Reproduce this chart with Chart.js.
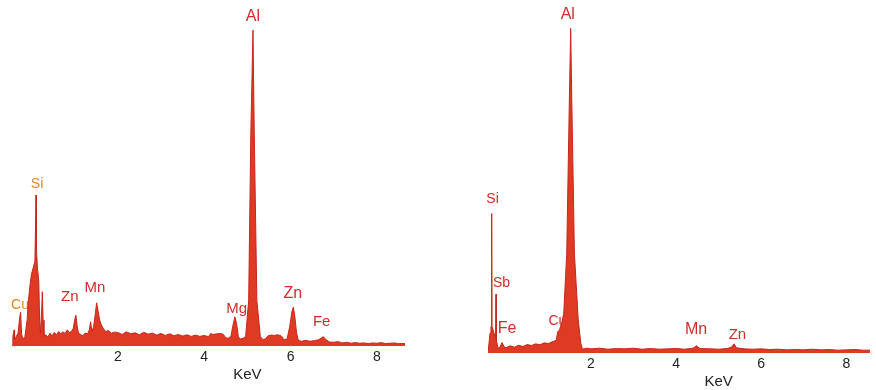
<!DOCTYPE html>
<html>
<head>
<meta charset="utf-8">
<script src="https://cdn.jsdelivr.net/npm/chart.js@4.4.1/dist/chart.umd.min.js"></script>
<style>
  body { margin: 0; background: #fff; }
  .box { position: absolute; top: 0; }
</style>
</head>
<body>
<div class="box" style="left:0px"><canvas id="leftSpectrum" width="440" height="390"></canvas></div>
<div class="box" style="left:440px"><canvas id="rightSpectrum" width="436" height="390"></canvas></div>
<script>
// tick labels on the energy axis
const tickValues = [2, 4, 6, 8];
const axisTitle = "KeV";

// spectrum 1 (left)
const leftKeV = [
  -0.45, -0.43, -0.40, -0.39, -0.35, -0.31, -0.27, -0.25, -0.23, -0.20, -0.15, -0.10, -0.07, -0.03, 0.00, 0.04, 0.08, 0.10, 0.106, 0.115, 0.14, 0.17, 0.19, 0.21, 0.24, 0.252, 0.27, 0.29,
  0.33, 0.38, 0.43, 0.48, 0.53, 0.58, 0.63, 0.68, 0.73, 0.78, 0.83, 0.88, 0.93, 0.97, 1.00, 1.03, 1.06, 1.09, 1.14, 1.19, 1.24, 1.30, 1.34, 1.37, 1.40, 1.44, 1.48, 1.51, 1.54, 1.58, 1.62, 1.66, 1.72, 1.78, 1.85, 1.92,
  2.0, 2.1, 2.2, 2.3, 2.4, 2.5, 2.6, 2.7, 2.8, 2.9, 3.0, 3.1, 3.2, 3.3, 3.4, 3.5, 3.6, 3.7, 3.8, 3.9, 4.0, 4.1, 4.15, 4.2, 4.3, 4.4, 4.45, 4.5, 4.55, 4.62, 4.66, 4.71, 4.75, 4.79, 4.83, 4.9,
  4.96, 5.03, 5.08, 5.13, 5.16, 5.22, 5.30, 5.36, 5.42, 5.48, 5.55, 5.62, 5.70, 5.78, 5.85, 5.92, 5.98, 6.03, 6.065, 6.10, 6.14, 6.18, 6.25, 6.35, 6.45, 6.55, 6.65, 6.72, 6.76, 6.82, 6.90,
  7.0, 7.1, 7.2, 7.3, 7.4, 7.5, 7.6, 7.7, 7.8, 7.9, 8.0, 8.1, 8.2, 8.3, 8.4, 8.5, 8.65
];
const leftCounts = [
  0, 3, 5, 2, 3, 4, 9, 10.5, 4, 2, 3, 8, 14, 19, 22, 24, 26, 40, 46.3, 30, 24, 20, 8, 4, 12, 16.7, 8, 3,
  3.5, 2.8, 4, 3.2, 4.2, 3.5, 4.5, 3.8, 4.4, 3.9, 5, 4.2, 4.6, 5.5, 8, 9.5, 6, 4, 3.6, 3.2, 4, 3.8, 5, 7.5, 4.5, 6, 10, 13.3, 11, 8, 6.5, 5.5, 4.5, 4.8, 4, 4.3,
  4.2, 3.6, 4.4, 3.8, 4.1, 3.5, 4.3, 3.7, 4.0, 3.4, 3.9, 3.3, 3.8, 3.2, 3.6, 3.1, 3.5, 3.0, 3.4, 3.0, 3.3, 2.9, 3.9, 3.6, 3.8, 3.9, 3.5, 2.6, 2.4, 3, 6, 9, 7, 3, 2.2, 2.4,
  3, 14, 65, 96.9, 65, 14, 3, 2, 2.3, 3.2, 3.4, 3.3, 3.5, 3.2, 2.0, 2.2, 6, 10.5, 12, 9, 4, 1.8, 1.5, 1.8, 1.5, 1.7, 2.0, 2.6, 2.9, 2.0, 1.3,
  1.2, 1.4, 1.0, 1.2, 0.9, 1.1, 0.9, 1.0, 0.8, 1.0, 0.9, 1.1, 0.8, 0.9, 1.0, 0.8, 0.8
];
const leftLabels = ["Al", "Si", "Cu", "Zn", "Mn", "Mg", "Zn", "Fe"];
const leftLabelKeV = [5.13, 0.13, -0.265, 0.89, 1.47, 4.75, 6.05, 6.72];
const leftLabelCounts = [100.9, 49.7, 12.6, 15.0, 17.8, 11.3, 16.0, 7.4];

// spectrum 2 (right)
const rightKeV = [
  -0.42, -0.396, -0.373, -0.35, -0.34, -0.333, -0.326, -0.30, -0.256, -0.24, -0.232, -0.225, -0.185, -0.14, -0.09, -0.044,
  0.0, 0.1, 0.2, 0.3, 0.4, 0.5, 0.6, 0.7, 0.8, 0.9, 1.0, 1.1, 1.18, 1.22, 1.26, 1.31, 1.36, 1.43, 1.49, 1.523, 1.55, 1.61, 1.70, 1.76, 1.80, 1.9,
  2.0, 2.2, 2.4, 2.6, 2.8, 3.0, 3.2, 3.4, 3.6, 3.8, 4.0, 4.2, 4.4, 4.48, 4.56, 4.8, 5.0, 5.2, 5.3, 5.36, 5.42, 5.6, 5.8, 6.0, 6.2, 6.4, 6.6, 6.8, 7.0, 7.2, 7.4, 7.6, 7.8, 8.0, 8.2, 8.4, 8.555
];
const rightCounts = [
  0, 3, 6, 8, 8, 41.9, 8, 7, 5, 5, 17.7, 4, 1.5, 1.8, 3.2, 2,
  1.6, 2.2, 1.8, 2.4, 2.0, 2.6, 2.3, 2.8, 2.5, 3.1, 2.9, 3.5, 3.8, 6.5, 7, 9, 12, 30, 75, 97.5, 75, 30, 10, 3, 1.2, 1.5,
  1.3, 1.5, 1.2, 1.4, 1.3, 1.5, 1.2, 1.4, 1.2, 1.3, 1.4, 1.2, 1.5, 2.2, 1.4, 1.3, 1.2, 1.4, 1.8, 2.8, 1.6, 1.3, 1.2, 1.3, 1.1, 1.2, 1.0, 1.1, 1.0, 1.2, 1.0, 1.1, 0.9, 1.0, 1.1, 0.9, 0.9
];
const rightLabels = ["Al", "Si", "Sb", "Fe", "Cu", "Mn", "Zn"];
const rightLabelKeV = [1.455, -0.314, -0.103, 0.027, 1.21, 4.468, 5.44];
const rightLabelCounts = [101.5, 46.2, 21, 7.5, 9.6, 7.2, 5.4];

const fillColor = "rgb(222, 58, 36)";
const edgeColor = "rgb(198, 40, 28)";
const red = "#d32a2a";
const orange = "#e8831f";

// element labels, drawn under the spectrum
const peakLabels = {
  id: "peakLabels",
  beforeDatasetsDraw(chart, args, opts) {
    const c = chart.ctx;
    const xs = chart.scales.x, ys = chart.scales.y;
    c.save();
    c.textAlign = "center";
    c.textBaseline = "middle";
    opts.names.forEach((name, i) => {
      c.font = opts.sizes[i] + "px 'Liberation Sans', Arial, sans-serif";
      c.fillStyle = opts.colors[i];
      c.fillText(name, xs.getPixelForValue(opts.kev[i]), ys.getPixelForValue(opts.counts[i]));
    });
    c.restore();
  }
};

// axis title sits under 5 keV in both panels
const keVTitle = {
  id: "keVTitle",
  afterDraw(chart) {
    const c = chart.ctx;
    c.save();
    c.font = "15px 'Liberation Sans', Arial, sans-serif";
    c.fillStyle = "#222";
    c.textAlign = "center";
    c.textBaseline = "middle";
    c.fillText(axisTitle, chart.scales.x.getPixelForValue(5), chart.chartArea.bottom + 29);
    c.restore();
  }
};

function makeSpectrum(id, kev, counts, xMin, xMax, padding, labelOpts) {
  const ctx = document.getElementById(id).getContext("2d");
  return new Chart(ctx, {
    type: "line",
    data: {
      datasets: [{
        data: kev.map((k, i) => ({ x: k, y: counts[i] })),
        fill: "origin",
        backgroundColor: fillColor,
        borderColor: edgeColor,
        borderWidth: 1,
        pointRadius: 0,
        tension: 0
      }]
    },
    options: {
      responsive: false,
      animation: false,
      layout: { padding: padding },
      plugins: {
        legend: { display: false },
        tooltip: { enabled: false },
        peakLabels: labelOpts
      },
      scales: {
        x: {
          type: "linear",
          min: xMin,
          max: xMax,
          grid: { display: false, drawTicks: false },
          border: { display: false },
          afterBuildTicks: axis => { axis.ticks = tickValues.map(v => ({ value: v })); },
          ticks: {
            padding: 3,
            color: "#222",
            font: { size: 14, family: "'Liberation Sans', Arial, sans-serif" }
          }
        },
        y: { display: false, min: 0, max: 100 }
      }
    },
    plugins: [peakLabels, keVTitle]
  });
}

makeSpectrum("leftSpectrum", leftKeV, leftCounts, -0.45, 8.65,
  { left: 12, right: 35, top: 20, bottom: 21 },
  {
    names: leftLabels, kev: leftLabelKeV, counts: leftLabelCounts,
    colors: [red, orange, orange, red, red, red, red, red],
    sizes: [16, 14, 14, 15, 15, 15, 16, 15]
  });

makeSpectrum("rightSpectrum", rightKeV, rightCounts, -0.42, 8.555,
  { left: 48, right: 6, top: 20, bottom: 14 },
  {
    names: rightLabels, kev: rightLabelKeV, counts: rightLabelCounts,
    colors: [red, red, red, red, red, red, red],
    sizes: [16, 14, 14, 16, 14, 16, 15]
  });
</script>
</body>
</html>
